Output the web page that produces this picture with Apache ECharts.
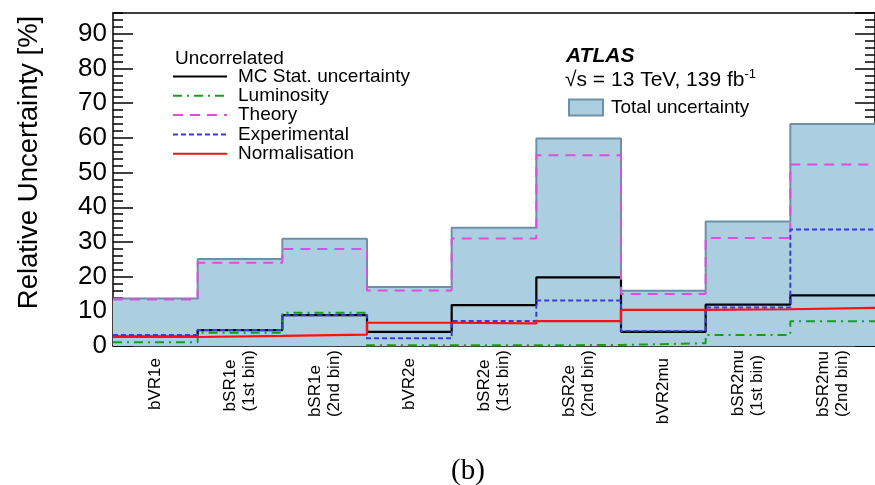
<!DOCTYPE html>
<html><head><meta charset="utf-8">
<script src="https://cdn.jsdelivr.net/npm/echarts@6/dist/echarts.min.js"></script>
<style>html,body{margin:0;padding:0;background:#fff}#c{width:875px;height:485px}</style>
</head><body><div id="c"></div>
<script>
const categories = ['bVR1e','bSR1e\n(1st bin)','bSR1e\n(2nd bin)','bVR2e','bSR2e\n(1st bin)','bSR2e\n(2nd bin)','bVR2mu','bSR2mu\n(1st bin)','bSR2mu\n(2nd bin)'];
const totalUnc = [13.7, 25.1, 30.9, 17.0, 34.1, 59.8, 15.9, 35.9, 64.0];
const theoryUnc = [13.4, 24.0, 28.0, 16.0, 31.0, 55.0, 15.0, 31.1, 52.3];
const mcStatUnc = [2.7, 4.6, 8.9, 4.1, 11.8, 19.8, 4.1, 11.9, 14.6];
const lumiUnc = [1.1, 3.8, 9.6, 0.2, 0.2, 0.3, 0.8, 3.2, 7.1];
const expUnc = [3.2, 4.6, 8.9, 2.2, 7.2, 13.1, 4.3, 11.1, 33.6];
const normUnc = [2.6, 2.9, 3.3, 6.7, 6.5, 7.2, 10.4, 10.6, 11.0];
const yTicks = [0, 10, 20, 30, 40, 50, 60, 70, 80, 90];

const FONT = 'Liberation Sans, Arial, sans-serif';
function stepData(v) {
  const d = v.map((y, i) => [i, y]);
  d.push([v.length, v[v.length - 1]]);
  return d;
}
function stepSeries(name, vals, color, type, width) {
  return {
    name, type: 'line', step: 'end', xAxisIndex: 1, yAxisIndex: 0,
    data: stepData(vals), symbol: 'none', showSymbol: false, silent: true,
    itemStyle: { color },
    lineStyle: { color, width, type }
  };
}
function xLabel(v) {
  const parts = v.split('\n');
  if (parts.length === 1) return '{s|' + v + '}';
  return parts.map(p => '{m|' + p + '}').join('\n');
}
const fillColor = '#abcfe1', edgeColor = '#6e8fa8';
const axisLineStyle = { color: '#000', width: 1.5 };

const chart = echarts.init(document.getElementById('c'), null, { renderer: 'canvas' });
chart.setOption({
  animation: false,
  backgroundColor: '#fff',
  grid: { left: 113, right: -2, top: 13, bottom: 139 },
  title: [
    { text: 'Uncorrelated', left: 170, top: 44, textStyle: { fontFamily: FONT, fontSize: 19, fontWeight: 'normal', color: '#000', lineHeight: 20 } },
    { text: 'ATLAS', left: 561, top: 40, textStyle: { fontFamily: FONT, fontSize: 21, fontWeight: 'bold', fontStyle: 'italic', color: '#000', lineHeight: 22 } },
    { text: '√s = 13 TeV, 139 fb{sup|-1}', left: 560, top: 63, textStyle: { fontFamily: FONT, fontSize: 21, fontWeight: 'normal', color: '#000', lineHeight: 24,
        rich: { sup: { fontFamily: FONT, fontSize: 13, color: '#000', verticalAlign: 'top', lineHeight: 14 } } } },
    { text: '(b)', left: 446, top: 452, textStyle: { fontFamily: 'Liberation Serif, Times New Roman, serif', fontSize: 29, fontWeight: 'normal', color: '#000' } }
  ],
  legend: [
    { data: ['MC Stat. uncertainty', 'Luminosity', 'Theory', 'Experimental', 'Normalisation'],
      orient: 'vertical', left: 172, top: 67, itemWidth: 54, itemHeight: 14, itemGap: 0.3,
      selectedMode: false, padding: 0,
      itemStyle: { opacity: 0 },
      textStyle: { fontFamily: FONT, fontSize: 19, color: '#000', padding: [0, 0, 0, 6] } },
    { data: [{ name: 'Total uncertainty', icon: 'rect', itemStyle: { color: fillColor, borderColor: edgeColor, borderWidth: 2 } }],
      left: 568, top: 98, itemWidth: 34, itemHeight: 16, selectedMode: false, padding: 0,
      textStyle: { fontFamily: FONT, fontSize: 19, color: '#000', padding: [0, 0, 0, 3] } }
  ],
  xAxis: [
    { type: 'category', data: categories, position: 'bottom', boundaryGap: true,
      axisLine: { onZero: false, lineStyle: axisLineStyle },
      axisTick: { inside: true, length: 12, lineStyle: axisLineStyle },
      axisLabel: { rotate: 90, interval: 0, fontFamily: FONT, fontSize: 17, color: '#000', margin: 4, lineHeight: 19,
        formatter: xLabel,
        rich: {
          s: { fontFamily: FONT, fontSize: 17, color: '#000', lineHeight: 19, padding: [0, 8, 0, 0] },
          m: { fontFamily: FONT, fontSize: 17, color: '#000', lineHeight: 19, align: 'left' }
        } },
      splitLine: { show: false } },
    { type: 'value', min: 0, max: 9, position: 'bottom', show: false },
    { type: 'category', data: categories, position: 'top', boundaryGap: true,
      axisLine: { onZero: false, lineStyle: axisLineStyle },
      axisTick: { inside: true, length: 11, lineStyle: axisLineStyle },
      axisLabel: { show: false }, splitLine: { show: false } }
  ],
  yAxis: [
    { type: 'value', min: 0, max: 96, interval: 10, position: 'left',
      name: 'Relative Uncertainty [%]', nameLocation: 'middle', nameGap: 70,
      nameTextStyle: { fontFamily: FONT, fontSize: 27.5, color: '#000', padding: [0, 0, 0, 34] },
      axisLine: { show: true, onZero: false, lineStyle: axisLineStyle },
      axisTick: { inside: true, length: 20, lineStyle: axisLineStyle },
      axisLabel: { fontFamily: FONT, fontSize: 26, color: '#000', margin: 6, showMaxLabel: false,
        formatter: v => (yTicks.indexOf(v) >= 0 ? String(v) : '') },
      splitLine: { show: false } },
    { type: 'value', min: 0, max: 96, interval: 2, position: 'left',
      axisLine: { show: false, onZero: false },
      axisTick: { inside: true, length: 10, lineStyle: axisLineStyle },
      axisLabel: { show: false }, splitLine: { show: false } },
    { type: 'value', min: 0, max: 96, interval: 10, position: 'right',
      axisLine: { show: true, onZero: false, lineStyle: axisLineStyle },
      axisTick: { inside: true, length: 20, lineStyle: axisLineStyle },
      axisLabel: { show: false }, splitLine: { show: false } },
    { type: 'value', min: 0, max: 96, interval: 2, position: 'right',
      axisLine: { show: false, onZero: false },
      axisTick: { inside: true, length: 10, lineStyle: axisLineStyle },
      axisLabel: { show: false }, splitLine: { show: false } }
  ],
  series: [
    { name: 'Total uncertainty', type: 'line', step: 'end', xAxisIndex: 1, yAxisIndex: 0,
      data: stepData(totalUnc), symbol: 'none', showSymbol: false, silent: true,
      itemStyle: { color: fillColor },
      lineStyle: { color: edgeColor, width: 2 },
      areaStyle: { color: fillColor, opacity: 1 } },
    stepSeries('MC Stat. uncertainty', mcStatUnc, '#000000', 'solid', 2.2),
    stepSeries('Luminosity', lumiUnc, '#14a014', [9, 5, 2, 5], 2),
    stepSeries('Theory', theoryUnc, '#dc4fdc', [10, 7], 2),
    stepSeries('Experimental', expUnc, '#3a3ad8', [5, 3], 2),
    stepSeries('Normalisation', normUnc, '#ff1010', 'solid', 2.2)
  ]
});
</script>
</body></html>
